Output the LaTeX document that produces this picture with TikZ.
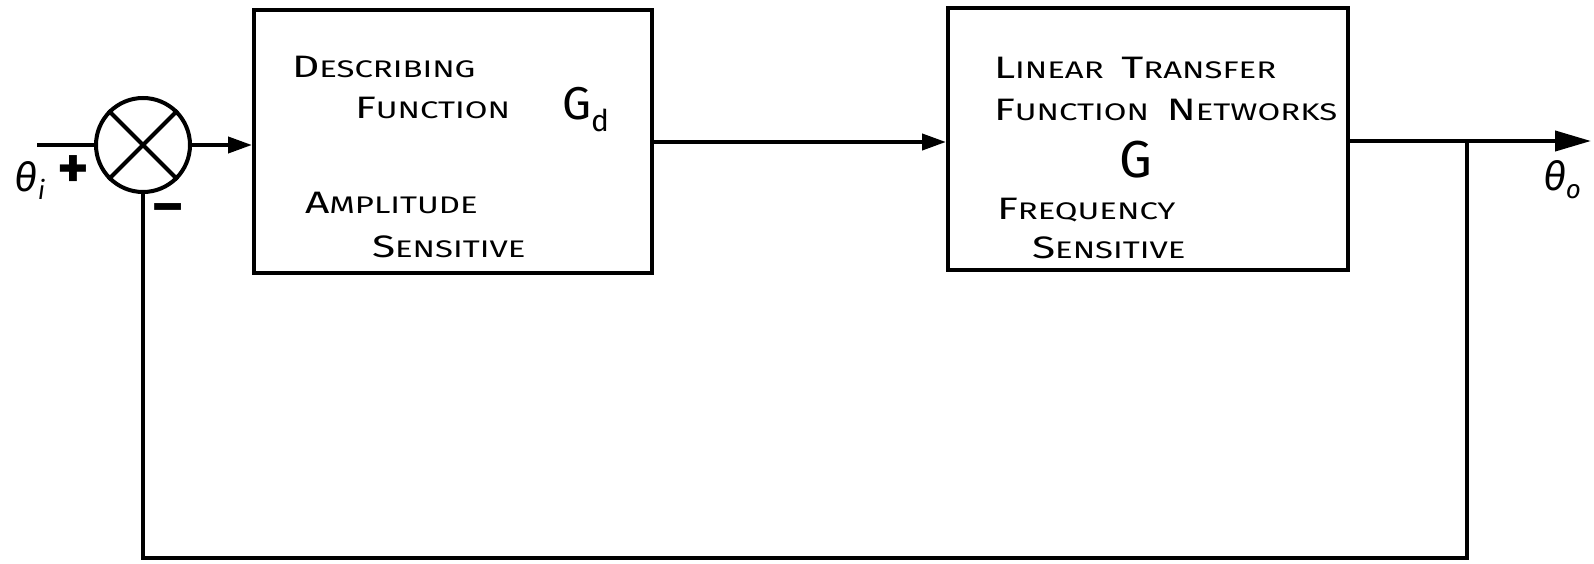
\documentclass[tikz,border=0pt]{standalone}
\usepackage{fontspec}
\setmainfont{Fira Sans}
\usetikzlibrary{arrows.meta}
\newcommand{\hlt}[2]{{\fontsize{31}{31}\selectfont #1}{\fontsize{24}{24}\selectfont #2}}
\newcommand{\widen}[1]{\scalebox{1.37}[1]{#1}}
\newcommand{\wgap}{\hspace{13pt}}
\begin{document}
\begin{tikzpicture}[x=1pt,y=-1pt,line width=4pt,
  blk/.style={draw,inner sep=0pt,minimum width=398pt,minimum height=263pt},
  lbl/.style={anchor=west,inner sep=0pt},
  tip/.style={-{Triangle[length=24pt,width=16pt]}},
  bigtip/.style={-{Triangle[length=36pt,width=20pt]}},
  sig/.style={inner sep=0pt,font=\fontsize{40}{40}\selectfont}]
\useasboundingbox (0,0) rectangle (1594,564);
\node[blk] (box1) at (453,141.5) {};
\node[blk,minimum width=400pt,minimum height=262pt] (box2) at (1148,139) {};
\node[circle,draw,minimum size=94pt,inner sep=0pt] (sum) at (143,145) {};
\draw (sum.north west) -- (sum.south east);
\draw (sum.north east) -- (sum.south west);
\coordinate (in) at (37,145);
\coordinate (br) at (1467,141);
\coordinate (out) at (1591,141);
\coordinate (fb1) at (1467,558);
\coordinate (fb2) at (143,558);
\draw (in) -- (sum.west);
\draw[tip] (sum.east) -- (sum.east -| box1.west);
\draw[tip] (box1.east |- 0,142) -- (box2.west |- 0,142);
\draw[bigtip] (box2.east |- br) -- (out);
\draw (br) -- (fb1) -- (fb2) -- (sum.south);
% box 1 text
\node[lbl] (t1) at (290,67) {\widen{\hlt{D}{ESCRIBING}}};
\node[lbl] (t2) at (353,108) {\widen{\hlt{F}{UNCTION}}};
\node[lbl] (t3) at (560,110) {{\fontsize{46}{46}\selectfont G}\raisebox{-12pt}{\fontsize{30}{30}\selectfont d}};
\node[lbl] (t4) at (303,203) {\widen{\hlt{A}{MPLITUDE}}};
\node[lbl] (t5) at (370,247) {\widen{\hlt{S}{ENSITIVE}}};
% box 2 text
\node[lbl] (u1) at (992,68) {\widen{\hlt{L}{INEAR}\wgap\hlt{T}{RANSFER}}};
\node[lbl] (u2) at (992,110) {\widen{\hlt{F}{UNCTION}\wgap\hlt{N}{ETWORKS}}};
\node[inner sep=0pt] (u3) at (1136,160) {\fontsize{52}{52}\selectfont G};
\node[lbl] (u4) at (995,210) {\widen{\hlt{F}{REQUENCY}}};
\node[lbl] (u5) at (1030,248) {\widen{\hlt{S}{ENSITIVE}}};
% signals
\node[sig] (thi) at (30,180) {\itshape θ\raisebox{-8pt}{\fontsize{26}{26}\selectfont i}};
\node[sig,font=\fontsize{60}{60}\selectfont\bfseries] (plus) at (73,172) {+};
\node[sig,font=\fontsize{56}{56}\selectfont\bfseries] (minus) at (168,214) {–};
\node[sig] (tho) at (1562,180) {\itshape θ\raisebox{-8pt}{\fontsize{26}{26}\selectfont o}};
\end{tikzpicture}
\end{document}
